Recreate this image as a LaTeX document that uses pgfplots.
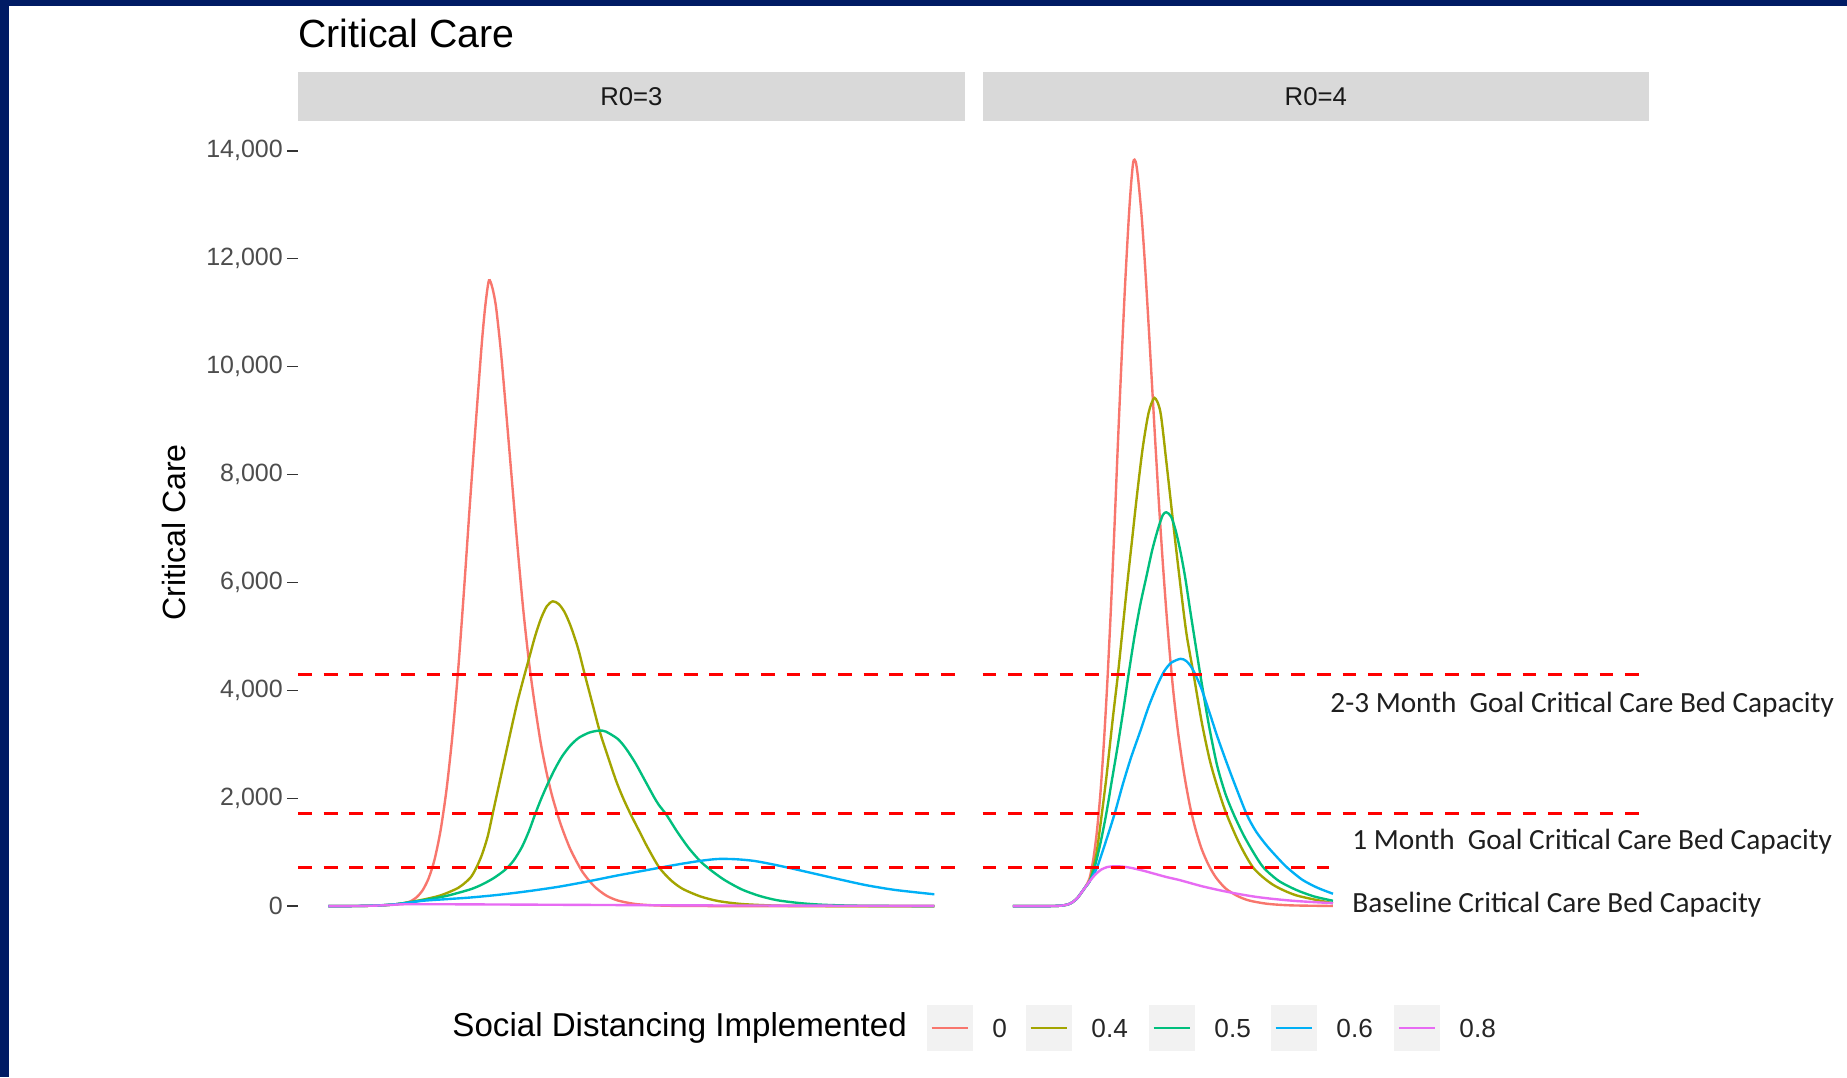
\documentclass[border=0pt]{standalone}
\usepackage{pgfplots}
\pgfplotsset{compat=1.18}
\usepackage{fontspec}
\setmainfont{Liberation Sans}
\newfontfamily\carlito{Carlito}

\definecolor{navy}{HTML}{001B64}
\definecolor{sd0}{HTML}{F8766D}
\definecolor{sd4}{HTML}{A3A500}
\definecolor{sd5}{HTML}{00BF7D}
\definecolor{sd6}{HTML}{00B0F6}
\definecolor{sd8}{HTML}{E76BF3}
\definecolor{stripgray}{HTML}{D9D9D9}
\definecolor{keygray}{HTML}{F2F2F2}
\definecolor{ticktext}{HTML}{4D4D4D}
\definecolor{tickmark}{HTML}{333333}

% one facet panel; x = day of the epidemic, y = critical care patients
\pgfplotsset{
  facet/.style={
    anchor=south west, scale only axis,
    width=280.0pt, height=345.3pt,
    xmin=-25.65, xmax=538.65, ymin=-692, ymax=14546,
    axis line style={draw=none},
    xtick=\empty,
    every axis plot/.append style={line width=1pt, no marks},
  },
  curve/.style={smooth, tension=0.45},
  capline/.style={red, line width=1.3pt, dash pattern=on 5.8pt off 5pt, sharp plot},
}

\begin{document}
\begin{tikzpicture}[x=0.42pt, y=0.42pt]
\fill[navy] (0,0) rectangle (1847,1077);
\fill[white] (9,0) rectangle (1847,1071);

% strips
\fill[stripgray] (298,955.7) rectangle (964.7,1005.2);
\fill[stripgray] (982.5,955.7) rectangle (1649.2,1005.2);
\node[font=\fontsize{10.8}{13}\selectfont, text=black!90] at (631.4,980.5) {R0=3};
\node[font=\fontsize{10.8}{13}\selectfont, text=black!90] at (1315.8,980.5) {R0=4};

% R0 = 3
\begin{axis}[facet, at={(125.16pt,56.07pt)},
  ytick={0,2000,...,14000}, ytick pos=left, tick align=outside,
  major tick length=4.5pt, tick style={tickmark, line width=0.6pt},
  yticklabel style={font=\fontsize{10.5}{12}\selectfont, text=ticktext, inner xsep=1.7pt},
  scaled y ticks=false,
  /pgf/number format/1000 sep={,}, /pgf/number format/assume math mode=true]
\addplot[sd0, curve] coordinates {
  (0,0) (20,2) (40,10) (55,30) (65,60) (70,95) (75,170) (80,300) (85,520) (90,870)
  (95,1400) (100,2150) (105,3150) (110,4400) (115,5900) (120,7500) (125,9000)
  (130,10450) (133,11150) (136,11600) (139,11450) (142,11100) (146,10300)
  (150,9300) (155,8000) (160,6700) (165,5500) (170,4500) (175,3700) (180,3000)
  (185,2450) (190,2000) (197,1500) (205,1050) (215,640) (225,370) (235,200)
  (245,105) (260,40) (280,12) (320,2) (513,0)};
\addplot[sd4, curve] coordinates {
  (0,0) (20,2) (40,10) (55,30) (65,60) (80,120) (95,200) (110,340) (120,520)
  (125,700) (130,950) (135,1300) (140,1800) (145,2300) (150,2800) (155,3300)
  (160,3780) (165,4200) (170,4600) (175,5000) (180,5330) (185,5560) (190,5650)
  (195,5600) (200,5450) (205,5200) (210,4880) (213,4650) (217,4300) (223,3800)
  (230,3220) (237,2750) (244,2300) (250,1980) (256,1700) (263,1400) (270,1100)
  (280,720) (290,480) (300,320) (315,180) (330,95) (350,40) (380,10) (420,2)
  (513,0)};
\addplot[sd5, curve] coordinates {
  (0,0) (20,2) (40,10) (55,30) (65,60) (80,110) (100,190) (120,310) (130,400)
  (140,520) (150,680) (157,850) (164,1100) (170,1400) (175,1700) (180,1980)
  (186,2280) (192,2550) (198,2780) (205,2980) (212,3120) (220,3210) (225,3240)
  (230,3255) (235,3235) (245,3100) (252,2920) (260,2650) (268,2330) (276,2010)
  (280,1870) (286,1700) (295,1390) (305,1080) (315,830) (323,680) (335,490)
  (350,310) (365,190) (380,110) (400,55) (420,25) (450,8) (513,0)};
\addplot[sd6, curve] coordinates {
  (0,0) (20,2) (40,12) (55,32) (65,55) (80,100) (100,130) (120,160) (144,210)
  (170,280) (195,360) (220,460) (245,570) (270,670) (295,770) (315,840)
  (330,875) (345,870) (360,840) (375,780) (390,710) (410,610) (430,510)
  (455,390) (480,300) (513,220)};
\addplot[sd8, curve] coordinates {
  (0,0) (20,2) (40,10) (55,25) (65,35) (100,35) (200,25) (300,15) (400,10) (513,5)};
% bed capacity levels
\addplot[capline] coordinates {(-25.65,4300) (538.65,4300)};
\addplot[capline] coordinates {(-25.65,1725) (538.65,1725)};
\addplot[capline] coordinates {(-25.65,720) (538.65,720)};
\end{axis}

% R0 = 4
\begin{axis}[facet, at={(412.65pt,56.07pt)}, ytick=\empty]
\addplot[sd0, curve] coordinates {
  (0,0) (20,0) (35,3) (42,12) (47,35) (51,80) (55,160) (59,280) (62,380) (65,520)
  (68,850) (71,1350) (74,2050) (77,3000) (80,4150) (83,5500) (86,7000) (89,8600)
  (92,10100) (95,11500) (98,12700) (100,13350) (102,13800) (104,13800)
  (106,13500) (109,12800) (112,11850) (115,10750) (118,9600) (121,8450)
  (124,7350) (127,6350) (130,5450) (133,4650) (136,3950) (140,3200) (145,2450)
  (150,1850) (155,1400) (160,1050) (166,750) (172,530) (180,330) (190,190)
  (200,105) (215,45) (235,15) (271,3)};
\addplot[sd4, curve] coordinates {
  (0,0) (20,0) (35,3) (42,12) (47,35) (51,80) (55,160) (59,280) (62,370) (65,460)
  (68,700) (71,1000) (75,1650) (79,2350) (82,2950) (85,3550) (89,4300) (93,5150)
  (97,6000) (101,6800) (105,7600) (110,8500) (115,9150) (120,9420) (125,9150)
  (130,8230) (136,7050) (142,5920) (147,5050) (153,4300) (160,3400) (167,2680)
  (174,2150) (181,1700) (192,1150) (204,700) (220,400) (240,200) (271,55)};
\addplot[sd5, curve] coordinates {
  (0,0) (20,0) (35,3) (42,12) (47,35) (51,80) (55,160) (59,280) (62,370) (65,460)
  (69,700) (74,1150) (79,1700) (84,2350) (89,3000) (94,3700) (98,4300) (103,5000)
  (108,5600) (113,6100) (118,6600) (123,7000) (127,7250) (130,7300) (134,7220)
  (138,6950) (142,6560) (146,6080) (150,5500) (155,4800) (159,4250) (166,3350)
  (173,2600) (180,2080) (187,1700) (195,1330) (203,1020) (212,720) (225,470)
  (240,300) (255,180) (271,100)};
\addplot[sd6, curve] coordinates {
  (0,0) (20,0) (35,3) (42,12) (47,35) (51,80) (55,160) (59,280) (62,370) (65,460)
  (71,700) (78,1150) (86,1700) (93,2250) (100,2750) (108,3250) (115,3700)
  (122,4080) (128,4350) (134,4510) (142,4585) (147,4540) (152,4400) (159,4070)
  (166,3620) (173,3150) (180,2720) (187,2310) (198,1700) (206,1380) (215,1120)
  (224,900) (232,720) (245,490) (258,340) (271,230)};
\addplot[sd8, curve] coordinates {
  (0,0) (20,0) (35,3) (42,12) (47,35) (51,80) (55,160) (59,280) (62,370) (65,460)
  (70,590) (75,680) (80,725) (86,740) (92,735) (100,710) (110,660) (120,600)
  (130,540) (140,490) (150,430) (160,370) (175,295) (190,230) (205,175)
  (220,135) (240,95) (271,55)};
\addplot[capline] coordinates {(-25.65,4300) (538.65,4300)};
\addplot[capline] coordinates {(-25.65,1725) (538.65,1725)};
\addplot[capline] coordinates {(-25.65,720) (268,720)};
\end{axis}

% titles
\node[anchor=west, inner sep=0, font=\fontsize{16.5}{19}\selectfont] at (298,1044) {Critical Care};
\node[rotate=90, font=\fontsize{13.5}{16}\selectfont] at (174,544.5) {Critical Care};

% capacity annotations
\begin{scope}[every node/.style={anchor=west, inner sep=0, text=black!88,
    font=\carlito\fontsize{12.3}{15}\selectfont}]
\node at (1330,372.6) {2-3 Month\ \ Goal Critical Care Bed Capacity};
\node at (1352,235) {1 Month\ \ Goal Critical Care Bed Capacity};
\node at (1352,172.3) {Baseline Critical Care Bed Capacity};
\end{scope}

% legend
\node[anchor=west, inner sep=0, font=\fontsize{13.9}{16}\selectfont] at (452,49) {Social Distancing Implemented};
\foreach \x/\c/\l in {927/sd0/0, 1026/sd4/0.4, 1149/sd5/0.5, 1271/sd6/0.6, 1394/sd8/0.8} {
  \fill[keygray] (\x,26) rectangle ++(46,46);
  \draw[\c, line width=1pt] (\x+4.6,49) -- ++(36.8,0);
  \node[anchor=west, inner sep=0, font=\fontsize{11}{13}\selectfont, text=black!85] at (\x+65,49) {\l};
}

\pgfresetboundingbox
\path (0,0) rectangle (1847,1077);
\end{tikzpicture}
\end{document}
